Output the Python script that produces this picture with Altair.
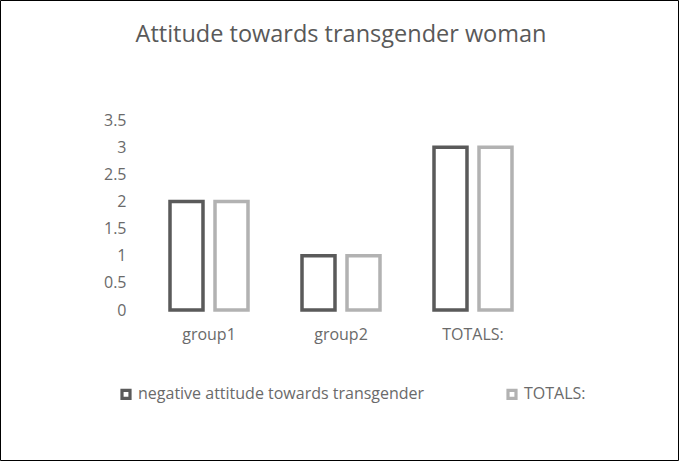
import altair as alt
import pandas as pd

# Chart data
categories = ["group1", "group2", "TOTALS:"]
series_names = ["negative attitude towards transgender", "TOTALS:"]
negative_values = [2, 1, 3]
totals_values = [2, 1, 3]
y_ticks = [0, 0.5, 1, 1.5, 2, 2.5, 3, 3.5]

rows = []
for cat, neg, tot in zip(categories, negative_values, totals_values):
    rows.append({"category": cat, "series": series_names[0], "value": neg})
    rows.append({"category": cat, "series": series_names[1], "value": tot})
df = pd.DataFrame(rows)

FONT = "Open Sans"
TEXT = "#595959"
LABEL = "#6a6a6a"
PLOT_W, PLOT_H = 396, 190
PAD = {"left": 143, "top": 120, "right": 140, "bottom": 151}

bars = alt.Chart(df).mark_bar(fill="white", strokeWidth=3.5).encode(
    x=alt.X(
        "category:N",
        sort=categories,
        scale=alt.Scale(paddingInner=0, paddingOuter=0),
        axis=alt.Axis(
            title=None, labelAngle=0, domain=False, ticks=False,
            labelPadding=16, labelFontSize=16, labelColor=LABEL, labelFont=FONT,
        ),
    ),
    xOffset=alt.XOffset(
        "series:N", sort=series_names,
        scale=alt.Scale(paddingInner=0.267, paddingOuter=0.6),
    ),
    y=alt.Y(
        "value:Q",
        scale=alt.Scale(domain=[0, 3.5], nice=False),
        axis=alt.Axis(
            title=None, values=y_ticks, format="~g", domain=False, ticks=False,
            grid=False, labelPadding=17, labelFontSize=16, labelColor=LABEL,
            labelFont=FONT,
        ),
    ),
    stroke=alt.Stroke(
        "series:N",
        sort=series_names,
        scale=alt.Scale(domain=series_names, range=["#5a5a5a", "#b2b2b2"]),
        legend=alt.Legend(
            title=None, orient="none", direction="horizontal", columns=2,
            legendX=-25, legendY=266, padding=0,
            symbolType="square", symbolSize=64, symbolStrokeWidth=3.2,
            symbolFillColor="white", labelFontSize=16, labelColor=LABEL,
            labelFont=FONT, labelOffset=4, columnPadding=76, labelLimit=400,
        ),
    ),
)

# Outer frame around the whole chart
frame = alt.Chart(alt.Data(values=[{}])).mark_rect(
    fill=None, stroke="black", strokeWidth=1
).encode(
    x=alt.value(-PAD["left"] + 0.5),
    x2=alt.value(PLOT_W + PAD["right"] - 0.5),
    y=alt.value(-PAD["top"] + 0.5),
    y2=alt.value(PLOT_H + PAD["bottom"] - 0.5),
)

chart = alt.layer(bars, frame).properties(
    width=PLOT_W,
    height=PLOT_H,
    padding=PAD,
    autosize=alt.AutoSizeParams(type="none"),
    background="white",
    title=alt.TitleParams(
        "Attitude towards transgender woman",
        anchor="middle", font=FONT, fontSize=23.5, fontWeight="normal",
        color=TEXT, offset=-46,
    ),
).configure_view(stroke=None)

chart.save("out.html", embed_options={"renderer": "svg", "actions": False})
